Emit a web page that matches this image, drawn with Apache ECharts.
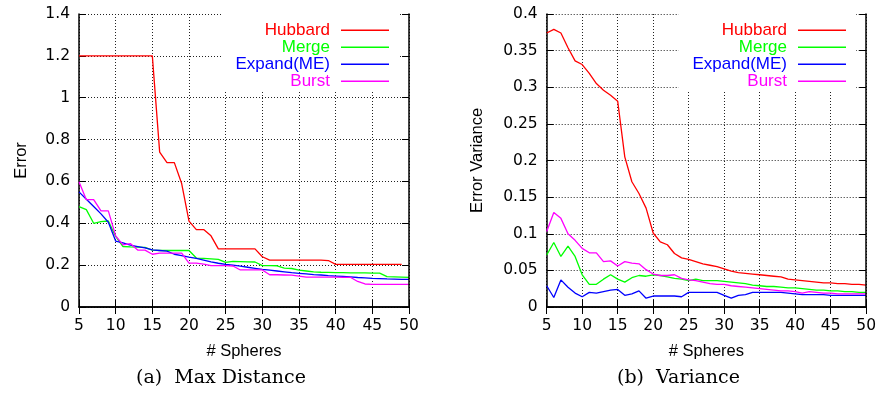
<!DOCTYPE html>
<html>
<head>
<meta charset="utf-8">
<script src="https://cdn.jsdelivr.net/npm/echarts@6/dist/echarts.min.js"></script>
<style>
  html, body { margin: 0; padding: 0; background: #fff; }
  #wrap { position: relative; width: 879px; height: 396px; }
  #chartA { position: absolute; left: 0; top: 0; width: 440px; height: 396px; }
  #chartB { position: absolute; left: 440px; top: 0; width: 439px; height: 396px; }
</style>
</head>
<body>
<div id="wrap">
  <div id="chartA"></div>
  <div id="chartB"></div>
</div>
<script>
// Number of spheres used (x axis of both panels)
const spheres = [5, 6, 7, 8, 9, 10, 11, 12, 13, 14, 15, 16, 17, 18, 19, 20,
  21, 22, 23, 24, 25, 26, 27, 28, 29, 30, 31, 32, 33, 34, 35, 36, 37, 38, 39, 40,
  41, 42, 43, 44, 45, 46, 47, 48, 49, 50];

const seriesNames = ['Hubbard', 'Merge', 'Expand(ME)', 'Burst'];
const seriesColors = ['#ff0000', '#00ff00', '#0000ff', '#ff00ff'];

// (a) Max Distance error
const hubbardMax = [1.2, 1.2, 1.2, 1.2, 1.2, 1.2, 1.2, 1.2, 1.2, 1.2, 1.2,
  0.74, 0.69, 0.69, 0.59, 0.41, 0.37, 0.37, 0.34, 0.278, 0.278, 0.278, 0.278, 0.278, 0.278,
  0.24, 0.224, 0.224, 0.224, 0.224, 0.224, 0.224, 0.224, 0.224, 0.222,
  0.204, 0.204, 0.204, 0.204, 0.204, 0.204, 0.204, 0.204, 0.204, 0.204];
const mergeMax = [0.48, 0.465, 0.40, 0.408, 0.411, 0.337, 0.289, 0.287, 0.286, 0.285,
  0.272, 0.27, 0.27, 0.27, 0.27, 0.27, 0.234, 0.232, 0.23, 0.228, 0.213, 0.218, 0.217,
  0.216, 0.215, 0.198, 0.198, 0.197, 0.186, 0.184, 0.176, 0.172, 0.168, 0.166, 0.165,
  0.164, 0.164, 0.163, 0.163, 0.163, 0.162, 0.162, 0.145, 0.144, 0.143, 0.142];
const expandMax = [0.55, 0.515, 0.48, 0.445, 0.405, 0.315, 0.306, 0.296, 0.289, 0.282,
  0.273, 0.27, 0.267, 0.252, 0.246, 0.238, 0.232, 0.224, 0.216, 0.209, 0.204, 0.2,
  0.195, 0.19, 0.185, 0.18, 0.176, 0.172, 0.168, 0.164, 0.161, 0.158, 0.155, 0.153,
  0.15, 0.148, 0.146, 0.144, 0.141, 0.139, 0.137, 0.136, 0.134, 0.133, 0.132, 0.132];
const burstMax = [0.598, 0.513, 0.513, 0.459, 0.459, 0.34, 0.297, 0.303, 0.272, 0.272,
  0.252, 0.257, 0.257, 0.257, 0.257, 0.21, 0.21, 0.205, 0.198, 0.198, 0.198, 0.196,
  0.177, 0.177, 0.177, 0.177, 0.154, 0.154, 0.153, 0.152, 0.148, 0.143, 0.143, 0.143,
  0.143, 0.143, 0.142, 0.142, 0.122, 0.11, 0.108, 0.108, 0.108, 0.108, 0.108, 0.108];

// (b) Error variance
const hubbardVar = [0.374, 0.379, 0.374, 0.354, 0.336, 0.331, 0.319, 0.305, 0.296, 0.289,
  0.281, 0.205, 0.171, 0.155, 0.135, 0.101, 0.089, 0.085, 0.073, 0.067, 0.065,
  0.062, 0.059, 0.057, 0.055, 0.052, 0.049, 0.047, 0.046, 0.045, 0.044, 0.043, 0.042,
  0.041, 0.038, 0.037, 0.036, 0.035, 0.034, 0.033, 0.033, 0.032, 0.032, 0.031, 0.031, 0.03];
const mergeVar = [0.071, 0.088, 0.069, 0.083, 0.069, 0.044, 0.031, 0.031, 0.038, 0.044,
  0.038, 0.034, 0.04, 0.043, 0.042, 0.044, 0.043, 0.041, 0.039, 0.038, 0.036,
  0.038, 0.036, 0.036, 0.036, 0.035, 0.034, 0.033, 0.032, 0.03, 0.029, 0.028, 0.028,
  0.027, 0.026, 0.026, 0.025, 0.024, 0.023, 0.023, 0.022, 0.022, 0.021, 0.021, 0.02, 0.02];
const expandVar = [0.029, 0.013, 0.037, 0.027, 0.019, 0.014, 0.02, 0.019, 0.021, 0.023,
  0.024, 0.016, 0.018, 0.022, 0.012, 0.015, 0.015, 0.015, 0.015, 0.014, 0.02,
  0.02, 0.02, 0.02, 0.02, 0.016, 0.012, 0.016, 0.017, 0.02, 0.02, 0.02, 0.02,
  0.02, 0.019, 0.018, 0.017, 0.017, 0.017, 0.017, 0.016, 0.016, 0.016, 0.016, 0.016, 0.016];
const burstVar = [0.103, 0.129, 0.121, 0.1, 0.091, 0.08, 0.074, 0.074, 0.062, 0.063,
  0.056, 0.062, 0.06, 0.059, 0.051, 0.045, 0.043, 0.043, 0.044, 0.039, 0.037,
  0.036, 0.034, 0.032, 0.031, 0.031, 0.029, 0.028, 0.027, 0.026, 0.025, 0.024, 0.023,
  0.022, 0.022, 0.021, 0.019, 0.021, 0.02, 0.019, 0.019, 0.018, 0.018, 0.018, 0.018, 0.018];

const SANS = 'Liberation Sans, Arial, Helvetica, sans-serif';
const TICK_FONT = 'DejaVu Sans, Verdana, sans-serif';
const SERIF = 'DejaVu Serif, serif';

function buildOption(cfg) {
  const axisLine = { show: true, lineStyle: { color: '#000', width: 1.5 } };
  const tick = { show: true, inside: true, length: 7, lineStyle: { color: '#000', width: 1 } };
  const labelStyle = { color: '#000', fontFamily: TICK_FONT, fontSize: 15.5 };
  const nameStyle = { color: '#000', fontFamily: SANS, fontSize: 16.5 };
  const grid = { left: cfg.gridLeft, top: 14, width: cfg.gridWidth, height: 293 };
  const dotted = { show: true, lineStyle: { color: '#222', width: 1, type: [1, 2] } };

  return {
    animation: false,
    grid: grid,
    legend: {
      orient: 'vertical',
      align: 'right',
      right: cfg.legendRight,
      top: 14,
      padding: [7.7, 10, 1.7, 14],
      itemGap: 0,
      itemWidth: 48,
      itemHeight: 1.5,
      icon: 'rect',
      selectedMode: false,
      backgroundColor: '#fff',
      itemStyle: { borderWidth: 0 },
      textStyle: { fontFamily: SANS, fontSize: 17, lineHeight: 16.67, padding: [0, 6, 0, 0] },
      data: seriesNames.map((n, i) => ({ name: n, textStyle: { color: seriesColors[i] } }))
    },
    xAxis: [
      {
        type: 'value', min: 5, max: 50, interval: 5, position: 'bottom',
        axisLine: axisLine, axisTick: tick,
        axisLabel: Object.assign({ margin: 11 }, labelStyle),
        splitLine: dotted,
        name: '# Spheres', nameLocation: 'middle', nameGap: 36,
        nameTextStyle: nameStyle
      },
      {
        type: 'value', min: 5, max: 50, interval: 5, position: 'top', z: 6,
        axisLine: axisLine, axisTick: tick,
        axisLabel: { show: false }, splitLine: { show: false }
      }
    ],
    yAxis: [
      {
        type: 'value', min: 0, max: cfg.yMax, interval: cfg.yStep, position: 'left',
        axisLine: axisLine, axisTick: tick,
        axisLabel: Object.assign({ margin: 9 }, labelStyle),
        splitLine: dotted,
        name: cfg.yName, nameLocation: 'middle', nameGap: cfg.yNameGap,
        nameTextStyle: nameStyle
      },
      {
        type: 'value', min: 0, max: cfg.yMax, interval: cfg.yStep, position: 'right', z: 6,
        axisLine: axisLine, axisTick: tick,
        axisLabel: { show: false }, splitLine: { show: false }
      }
    ],
    series: cfg.values.map((vals, i) => ({
      name: seriesNames[i],
      type: 'line',
      symbol: 'none',
      silent: true,
      color: seriesColors[i],
      lineStyle: { color: seriesColors[i], width: 1.3 },
      data: spheres.map((x, k) => [x, vals[k]])
    })),
    graphic: [{
      type: 'text',
      x: cfg.captionX, y: 378,
      style: {
        text: cfg.caption, fill: '#000', font: '19px ' + SERIF,
        align: 'center', verticalAlign: 'middle'
      }
    }]
  };
}

const chartA = echarts.init(document.getElementById('chartA'), null, { renderer: 'canvas' });
chartA.setOption(buildOption({
  gridLeft: 79, gridWidth: 330, yMax: 1.4, yStep: 0.2,
  yName: 'Error', yNameGap: 49, legendRight: 41,
  caption: '(a)  Max Distance', captionX: 221,
  values: [hubbardMax, mergeMax, expandMax, burstMax]
}));

const chartB = echarts.init(document.getElementById('chartB'), null, { renderer: 'canvas' });
chartB.setOption(buildOption({
  gridLeft: 106.7, gridWidth: 320, yMax: 0.4, yStep: 0.05,
  yName: 'Error Variance', yNameGap: 61, legendRight: 23,
  caption: '(b)  Variance', captionX: 238.5,
  values: [hubbardVar, mergeVar, expandVar, burstVar]
}));
</script>
</body>
</html>
